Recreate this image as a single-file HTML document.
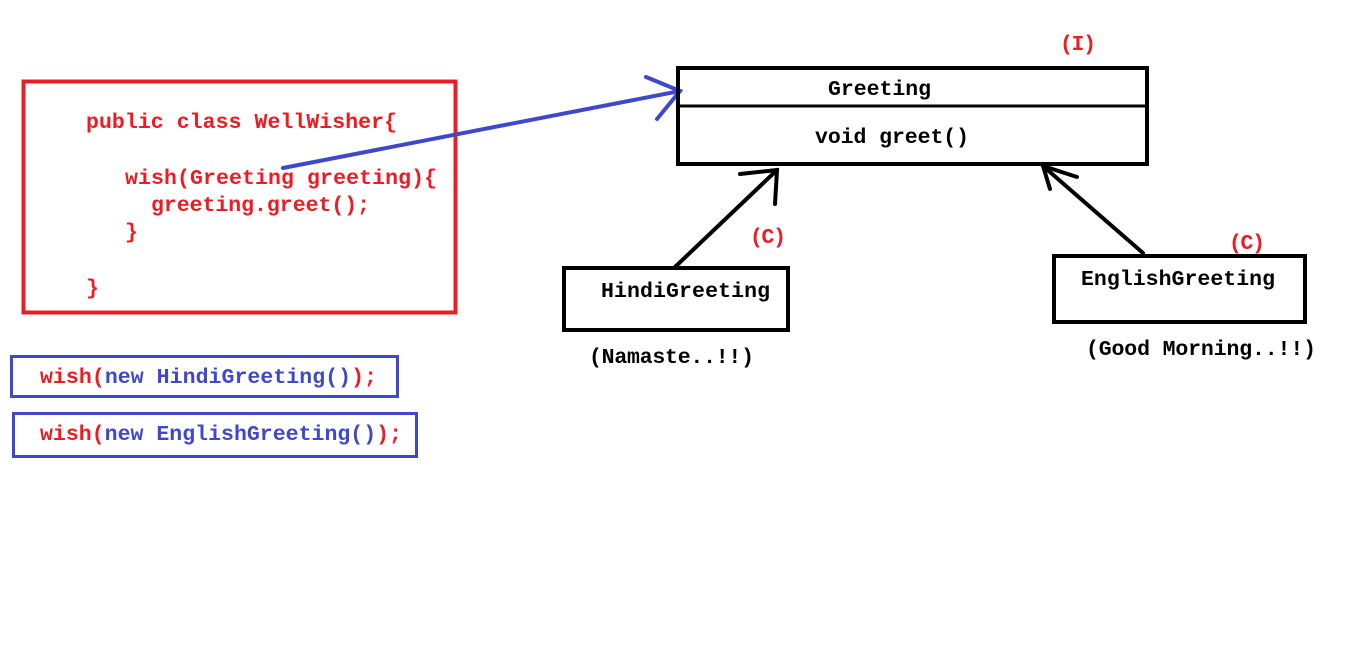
<!DOCTYPE html>
<html><head><style>
html,body{margin:0;padding:0;background:#fff;}
svg text{font-family:"Liberation Mono",monospace;font-weight:bold;font-size:21.5px;}
</style></head><body>
<svg width="1359" height="654" xmlns="http://www.w3.org/2000/svg">
<rect x="0" y="0" width="1359" height="654" fill="#fff"/>
<rect x="23.5" y="81.5" width="432" height="231" fill="none" stroke="#ed1c24" stroke-width="4"/>
<g fill="#ed1c24">
<text x="86" y="128" textLength="311">public class WellWisher{</text>
<text x="125" y="184" textLength="312">wish(Greeting greeting){</text>
<text x="151" y="211" textLength="219">greeting.greet();</text>
<text x="125" y="238">}</text>
<text x="86" y="294">}</text>
</g>
<rect x="11.5" y="356.5" width="386" height="40" fill="none" stroke="#3f48cc" stroke-width="3"/>
<rect x="13.5" y="413.5" width="403" height="43" fill="none" stroke="#3f48cc" stroke-width="3"/>
<text x="40" y="383" textLength="337"><tspan fill="#ed1c24">wish(</tspan><tspan fill="#3f48cc">new HindiGreeting()</tspan><tspan fill="#ed1c24">);</tspan></text>
<text x="40" y="440" textLength="362"><tspan fill="#ed1c24">wish(</tspan><tspan fill="#3f48cc">new EnglishGreeting()</tspan><tspan fill="#ed1c24">);</tspan></text>
<g stroke="#3f48cc" stroke-width="4" fill="none" stroke-linecap="round">
<line x1="283" y1="168" x2="680" y2="91"/>
<polyline points="646,77 680,91 657,119"/>
</g>
<rect x="678" y="68" width="469" height="96" fill="none" stroke="#000" stroke-width="4"/>
<line x1="678" y1="106" x2="1147" y2="106" stroke="#000" stroke-width="3"/>
<text x="828" y="95" textLength="103">Greeting</text>
<text x="815" y="143" textLength="154">void greet()</text>
<text x="1060" y="50" fill="#ed1c24" textLength="36">(I)</text>
<rect x="564" y="268" width="224" height="62" fill="none" stroke="#000" stroke-width="4"/>
<text x="601" y="297" textLength="169">HindiGreeting</text>
<text x="750" y="243" fill="#ed1c24" textLength="36">(C)</text>
<text x="589" y="363" textLength="165">(Namaste..!!)</text>
<rect x="1054" y="256" width="251" height="66" fill="none" stroke="#000" stroke-width="4"/>
<text x="1081" y="285" textLength="194">EnglishGreeting</text>
<text x="1229" y="249" fill="#ed1c24" textLength="36">(C)</text>
<text x="1086" y="355" textLength="230">(Good Morning..!!)</text>
<g stroke="#000" stroke-width="4" fill="none" stroke-linecap="round">
<line x1="675" y1="267" x2="777" y2="170"/>
<polyline points="740,174 777,170 775,204"/>
<line x1="1143" y1="253" x2="1043" y2="166"/>
<polyline points="1077,177 1043,166 1050,189"/>
</g>
</svg>
</body></html>
